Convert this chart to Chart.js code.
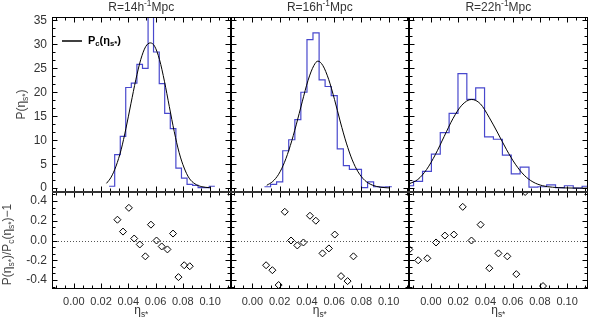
<!DOCTYPE html>
<html>
<head>
<meta charset="utf-8">
<script src="https://cdn.jsdelivr.net/npm/chart.js@4.4.1/dist/chart.umd.min.js"></script>
<style>
  html, body { margin: 0; padding: 0; background: #fff; }
  #wrap { position: relative; width: 600px; height: 321px; }
</style>
</head>
<body>
<div id="wrap"><canvas id="myChart" width="600" height="321"></canvas></div>
<script>
// axis ranges
var xMin = -0.016, xMax = 0.115;
var yTopMin = -0.8, yTopMax = 35.7;
var yBotMin = -0.49, yBotMax = 0.49;

var xTicks = [0, 0.02, 0.04, 0.06, 0.08, 0.10];
var xTickLabels = ['0.00', '0.02', '0.04', '0.06', '0.08', '0.10'];
var yTopTicks = [0, 5, 10, 15, 20, 25, 30, 35];
var yTopTickLabels = ['0', '5', '10', '15', '20', '25', '30', '35'];
var yBotTicks = [-0.4, -0.2, 0, 0.2, 0.4];
var yBotTickLabels = ['-0.4', '-0.2', '0.0', '0.2', '0.4'];

// R = 14 h^-1 Mpc
var hist14Edges = [0.0259, 0.0300, 0.0341, 0.0381, 0.0422, 0.0463, 0.0504, 0.0545, 0.0585, 0.0627, 0.0667, 0.0708, 0.0749, 0.0790, 0.0831, 0.0872, 0.0912, 0.0954, 0.0994, 0.1035];
var hist14 = [0.4, 7.0, 10.8, 21.0, 21.9, 25.8, 25.0, 36.5, 28.4, 21.8, 15.6, 12.4, 4.2, 2.1, 0.8, 0.6, 0.1, 0.1, 0.4];
var fit14X = [0.0240, 0.0274, 0.0310, 0.0347, 0.0383, 0.0419, 0.0455, 0.0491, 0.0527, 0.0561, 0.0593, 0.0629, 0.0665, 0.0701, 0.0737, 0.0773, 0.0810, 0.0846, 0.0889, 0.0940, 0.0998];
var fit14Y = [1.0, 2.3, 4.6, 8.0, 12.5, 17.6, 22.6, 26.8, 29.5, 30.3, 29.6, 26.8, 22.3, 17.0, 11.8, 7.4, 4.2, 2.1, 0.9, 0.3, 0.1];
var res14X = [0.0320, 0.0361, 0.0404, 0.0443, 0.0484, 0.0525, 0.0566, 0.0607, 0.0645, 0.0687, 0.0728, 0.0768, 0.0810, 0.0851];
var res14Y = [0.21, 0.09, 0.33, 0.02, -0.04, -0.16, 0.16, 0.00, -0.06, -0.09, 0.07, -0.37, -0.25, -0.26];

// R = 16 h^-1 Mpc
var hist16Edges = [0.0089, 0.0134, 0.0178, 0.0223, 0.0267, 0.0312, 0.0356, 0.0401, 0.0445, 0.0490, 0.0534, 0.0579, 0.0623, 0.0668, 0.0712, 0.0757, 0.0801, 0.0846, 0.0890, 0.0935, 0.0979, 0.1024];
var hist16 = [0.3, 0.8, 1.3, 7.8, 10.1, 14.3, 20.0, 31.0, 32.4, 22.6, 21.2, 19.3, 8.2, 4.7, 3.9, 3.9, 0.1, 1.3, 0.3, 0.2, 0.3];
var fit16X = [0.0106, 0.0150, 0.0193, 0.0236, 0.0279, 0.0322, 0.0366, 0.0409, 0.0452, 0.0481, 0.0517, 0.0560, 0.0603, 0.0646, 0.0690, 0.0733, 0.0776, 0.0826, 0.0884, 0.0942, 0.1006];
var fit16Y = [0.6, 1.4, 2.9, 5.4, 8.9, 13.2, 18.0, 22.5, 25.6, 26.5, 25.6, 22.7, 18.5, 13.8, 9.4, 5.9, 3.4, 1.6, 0.6, 0.2, 0.05];
var res16X = [0.0101, 0.0147, 0.0193, 0.0238, 0.0284, 0.0330, 0.0375, 0.0423, 0.0466, 0.0515, 0.0562, 0.0605, 0.0651, 0.0699, 0.0742];
var res16Y = [-0.25, -0.30, -0.45, 0.29, 0.00, -0.05, -0.02, 0.25, 0.20, -0.13, -0.08, 0.06, -0.36, -0.41, -0.16];

// R = 22 h^-1 Mpc
var hist22Edges = [-0.0192, -0.0127, -0.0061, 0.0004, 0.0069, 0.0134, 0.0199, 0.0264, 0.0329, 0.0394, 0.0459, 0.0525, 0.0590, 0.0655, 0.0720, 0.0785, 0.0850, 0.0915, 0.0980, 0.1045, 0.1110, 0.1175];
var hist22 = [0.5, 1.4, 3.5, 7.1, 11.6, 15.6, 23.9, 18.5, 20.9, 10.7, 10.2, 6.9, 3.0, 4.4, 0.2, 0.3, 0.7, 0.1, 0.5, 0.0, 0.4];
var fit22X = [-0.0160, -0.0096, -0.0031, 0.0033, 0.0098, 0.0162, 0.0227, 0.0298, 0.0363, 0.0427, 0.0491, 0.0556, 0.0620, 0.0685, 0.0749, 0.0821, 0.0892, 0.0985, 0.1093, 0.1150];
var fit22Y = [0.9, 1.8, 3.9, 7.0, 10.8, 14.5, 17.3, 18.5, 17.6, 14.8, 11.5, 8.0, 5.0, 2.7, 1.3, 0.5, 0.2, 0.05, 0.0, 0.0];
var res22X = [-0.0158, -0.0093, -0.0026, 0.0038, 0.0103, 0.0169, 0.0234, 0.0298, 0.0365, 0.0429, 0.0496, 0.0561, 0.0627, 0.0692, 0.0823];
var res22Y = [-0.09, -0.20, -0.18, -0.02, 0.05, 0.06, 0.34, 0.00, 0.16, -0.28, -0.13, -0.16, -0.34, 0.49, -0.46];

// text pieces: [text, 0 normal / 1 subscript / 2 superscript]
var panelTitles = [
  [['R=14h', 0], ['-1', 2], ['Mpc', 0]],
  [['R=16h', 0], ['-1', 2], ['Mpc', 0]],
  [['R=22h', 0], ['-1', 2], ['Mpc', 0]]
];
var yTopTitle = [['P(\u03b7', 0], ['s*', 1], [')', 0]];
var yBotTitle = [['P(\u03b7', 0], ['s*', 1], [')/P', 0], ['c', 1], ['(\u03b7', 0], ['s*', 1], [')\u22121', 0]];
var xTitle = [['\u03b7', 0], ['s*', 1]];
var legendText = [['P', 0], ['c', 1], ['(\u03b7', 0], ['s*', 1], [')', 0]];

var FONT = "'Liberation Sans', Arial, sans-serif";
var histColor = 'rgb(72, 72, 205)';

function stepData(edges, values) {
  var pts = values.map(function (v, i) { return {x: edges[i], y: v}; });
  pts.push({x: edges[edges.length - 1], y: values[values.length - 1]});
  return pts;
}
function zip(xs, ys) {
  return xs.map(function (x, i) { return {x: x, y: ys[i]}; });
}

var panels = [
  {x: 'x1', edges: hist14Edges, hist: hist14, fx: fit14X, fy: fit14Y, rx: res14X, ry: res14Y},
  {x: 'x2', edges: hist16Edges, hist: hist16, fx: fit16X, fy: fit16Y, rx: res16X, ry: res16Y},
  {x: 'x3', edges: hist22Edges, hist: hist22, fx: fit22X, fy: fit22Y, rx: res22X, ry: res22Y}
];

var datasets = [];
panels.forEach(function (p) {
  datasets.push({
    label: 'Pc', data: zip(p.fx, p.fy), xAxisID: p.x, yAxisID: 'yTop',
    showLine: true, cubicInterpolationMode: 'monotone', borderColor: '#000', borderWidth: 1,
    pointRadius: 0
  });
  datasets.push({
    label: 'P', data: stepData(p.edges, p.hist), xAxisID: p.x, yAxisID: 'yTop',
    showLine: true, stepped: true, borderColor: histColor, borderWidth: 1.2, pointRadius: 0
  });
  datasets.push({
    label: 'res', data: zip(p.rx, p.ry), xAxisID: p.x, yAxisID: 'yBot',
    showLine: false, pointStyle: 'rectRot', pointRadius: 3.5, borderWidth: 1,
    pointBorderColor: '#000', pointBackgroundColor: 'rgba(0,0,0,0)'
  });
});

function xScale(i) {
  return {
    type: 'linear', position: 'bottom', stack: 'bottom', stackWeight: 1, weight: i,
    min: xMin, max: xMax,
    grid: {display: false, drawTicks: false}, border: {display: false},
    afterBuildTicks: function (s) { s.ticks = xTicks.map(function (v) { return {value: v}; }); },
    afterFit: function (s) { s.height = 32; },
    ticks: {
      autoSkip: false, maxRotation: 0, padding: 6, color: '#333',
      font: {family: FONT, size: 11},
      callback: function (v, idx) { return xTickLabels[idx]; }
    }
  };
}

function rich(ctx, parts, x, y, size, opts) {
  opts = opts || {};
  var weight = opts.bold ? 'bold ' : '';
  ctx.save();
  ctx.translate(x, y);
  if (opts.rotate) ctx.rotate(-Math.PI / 2);
  ctx.fillStyle = opts.color || '#333';
  ctx.textBaseline = 'middle';
  ctx.textAlign = 'left';
  var sizes = parts.map(function (p) { return p[1] ? size * 0.7 : size; });
  var w = 0;
  parts.forEach(function (p, i) { ctx.font = weight + sizes[i] + 'px ' + FONT; w += ctx.measureText(p[0]).width; });
  var cx = opts.left ? 0 : -w / 2;
  parts.forEach(function (p, i) {
    ctx.font = weight + sizes[i] + 'px ' + FONT;
    var dy = p[1] === 1 ? size * 0.3 : (p[1] === 2 ? -size * 0.35 : 0);
    ctx.fillText(p[0], cx, dy);
    cx += ctx.measureText(p[0]).width;
  });
  ctx.restore();
}

function drawBox(ctx, xs, ys, xMajor, yMajor) {
  var l = Math.round(xs.left) + 0.5, r = Math.round(xs.right) - 0.5;
  var t = Math.round(ys.top) + 0.5, b = Math.round(ys.bottom) - 0.5;
  ctx.strokeRect(l, t, r - l, b - t);
  ctx.beginPath();
  var k, step, px, len;
  step = xMajor / 3;
  for (k = Math.ceil(xs.min / step); k * step <= xs.max; k++) {
    px = Math.round(xs.getPixelForValue(k * step)) + 0.5;
    len = (k % 3 === 0) ? 5 : 3;
    ctx.moveTo(px, b); ctx.lineTo(px, b - len);
    ctx.moveTo(px, t); ctx.lineTo(px, t + len);
  }
  step = yMajor / 3;
  for (k = Math.ceil(ys.min / step - 1e-9); k * step <= ys.max + 1e-9; k++) {
    px = Math.round(ys.getPixelForValue(k * step)) + 0.5;
    len = (k % 3 === 0) ? 5 : 3;
    ctx.moveTo(l, px); ctx.lineTo(l + len, px);
    ctx.moveTo(r, px); ctx.lineTo(r - len, px);
  }
  ctx.stroke();
}

var panelPlugin = {
  id: 'panels',
  beforeDatasetsDraw: function (chart) {
    var ctx = chart.ctx, yb = chart.scales.yBot;
    var y0 = Math.round(yb.getPixelForValue(0)) + 0.5;
    ctx.save();
    ctx.strokeStyle = '#555';
    ctx.lineWidth = 1;
    ctx.setLineDash([1, 2]);
    ctx.beginPath();
    ctx.moveTo(chart.chartArea.left, y0);
    ctx.lineTo(chart.chartArea.right, y0);
    ctx.stroke();
    ctx.restore();
  },
  beforeDatasetDraw: function (chart, args) {
    var m = args.meta, ctx = chart.ctx;
    ctx.save();
    ctx.beginPath();
    ctx.rect(m.xScale.left, m.yScale.top, m.xScale.width, m.yScale.height);
    ctx.clip();
  },
  afterDatasetDraw: function (chart) {
    chart.ctx.restore();
  },
  afterDatasetsDraw: function (chart) {
    var ctx = chart.ctx;
    var xsList = [chart.scales.x1, chart.scales.x2, chart.scales.x3];
    var yt = chart.scales.yTop, yb = chart.scales.yBot;
    ctx.save();
    ctx.strokeStyle = '#000';
    ctx.lineWidth = 1;
    xsList.forEach(function (xs) {
      drawBox(ctx, xs, yt, 0.02, 5);
      drawBox(ctx, xs, yb, 0.02, 0.2);
    });
    // heavier join between the two rows
    ctx.strokeStyle = '#333';
    ctx.lineWidth = 2;
    ctx.beginPath();
    ctx.moveTo(chart.chartArea.left, Math.round(yt.bottom));
    ctx.lineTo(chart.chartArea.right, Math.round(yt.bottom));
    ctx.stroke();
    ctx.restore();

    xsList.forEach(function (xs, i) {
      var cx = (xs.left + xs.right) / 2;
      rich(ctx, panelTitles[i], cx, 8, 12, {color: '#333'});
      rich(ctx, xTitle, cx, 311, 12, {color: '#333'});
    });
    rich(ctx, yTopTitle, 22, (yt.top + yt.bottom) / 2, 12, {rotate: true, color: '#444'});
    rich(ctx, yBotTitle, 8, (yb.top + yb.bottom) / 2 + 4, 12, {rotate: true, color: '#444'});

    // legend for the fitted curve
    var x1 = chart.scales.x1;
    ctx.save();
    ctx.strokeStyle = '#000';
    ctx.lineWidth = 1.5;
    ctx.beginPath();
    ctx.moveTo(x1.left + 10, yt.top + 24);
    ctx.lineTo(x1.left + 30, yt.top + 24);
    ctx.stroke();
    ctx.restore();
    rich(ctx, legendText, x1.left + 36, yt.top + 24, 11, {left: true, bold: true, color: '#000'});
  }
};

var ctx = document.getElementById('myChart').getContext('2d');

var myChart = new Chart(ctx, {
  type: 'scatter',
  data: {datasets: datasets},
  options: {
    responsive: false,
    animation: false,
    devicePixelRatio: 1,
    layout: {padding: {top: 17, right: 2, left: 0, bottom: 0}},
    plugins: {
      legend: {display: false},
      tooltip: {enabled: false},
      title: {display: false}
    },
    scales: {
      x1: xScale(0),
      x2: xScale(1),
      x3: xScale(2),
      yBot: {
        type: 'linear', position: 'left', stack: 'left', stackWeight: 97, weight: 0,
        min: yBotMin, max: yBotMax,
        grid: {display: false, drawTicks: false}, border: {display: false},
        afterBuildTicks: function (s) { s.ticks = yBotTicks.map(function (v) { return {value: v}; }); },
        afterFit: function (s) { s.width = 52; },
        ticks: {
          autoSkip: false, padding: 5, color: '#333', font: {family: FONT, size: 12},
          callback: function (v, idx) { return yBotTickLabels[idx]; }
        }
      },
      yTop: {
        type: 'linear', position: 'left', stack: 'left', stackWeight: 175, weight: 1,
        min: yTopMin, max: yTopMax,
        grid: {display: false, drawTicks: false}, border: {display: false},
        afterBuildTicks: function (s) { s.ticks = yTopTicks.map(function (v) { return {value: v}; }); },
        afterFit: function (s) { s.width = 52; },
        ticks: {
          autoSkip: false, padding: 5, color: '#333', font: {family: FONT, size: 12},
          callback: function (v, idx) { return yTopTickLabels[idx]; }
        }
      }
    }
  },
  plugins: [panelPlugin]
});
</script>
</body>
</html>
